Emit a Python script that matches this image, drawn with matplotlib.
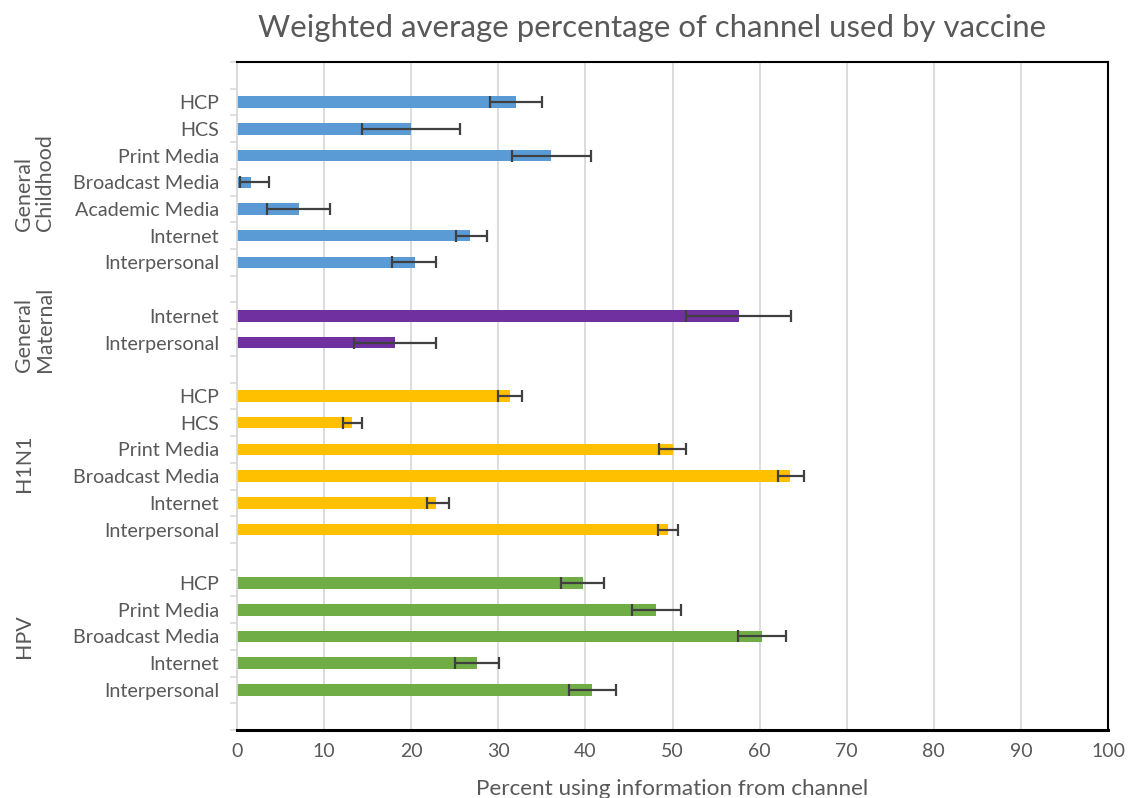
import numpy as np
import matplotlib
matplotlib.use("Agg")
import matplotlib.pyplot as plt

plt.rcParams['font.family'] = ['Lato', 'DejaVu Sans']

# Data (percent, lower error, upper error)
child_labels = ["HCP", "HCS", "Print Media", "Broadcast Media", "Academic Media", "Internet", "Interpersonal"]
child_vals = [32.0, 20.0, 36.1, 1.6, 7.1, 26.7, 20.4]
child_lo = [3.0, 5.6, 4.5, 1.2, 3.6, 1.6, 2.6]
child_hi = [3.0, 5.6, 4.5, 2.1, 3.6, 2.0, 2.5]

mat_labels = ["Internet", "Interpersonal"]
mat_vals = [57.6, 18.1]
mat_lo = [6.0, 4.7]
mat_hi = [6.0, 4.7]

h1n1_labels = ["HCP", "HCS", "Print Media", "Broadcast Media", "Internet", "Interpersonal"]
h1n1_vals = [31.4, 13.2, 50.0, 63.5, 22.9, 49.5]
h1n1_lo = [1.4, 1.0, 1.6, 1.4, 1.1, 1.2]
h1n1_hi = [1.3, 1.2, 1.5, 1.6, 1.4, 1.1]

hpv_labels = ["HCP", "Print Media", "Broadcast Media", "Internet", "Interpersonal"]
hpv_vals = [39.7, 48.1, 60.3, 27.6, 40.8]
hpv_lo = [2.5, 2.7, 2.8, 2.6, 2.7]
hpv_hi = [2.4, 2.9, 2.7, 2.5, 2.7]

groups = ["General\nChildhood", "General\nMaternal", "H1N1", "HPV"]
colors = ["#5B9BD5", "#7030A0", "#FFC000", "#70AD47"]

series = [
    (child_labels, child_vals, child_lo, child_hi),
    (mat_labels, mat_vals, mat_lo, mat_hi),
    (h1n1_labels, h1n1_vals, h1n1_lo, h1n1_hi),
    (hpv_labels, hpv_vals, hpv_lo, hpv_hi),
]

txt = "#595959"

fig = plt.figure(figsize=(11.28, 7.98), dpi=100)
ax = fig.add_axes([0.2101, 0.0852, 0.7722, 0.8371])

# build slot layout: one blank slot before each group and one at the end
slot = 1
ytick_pos, ytick_lab = [], []
group_centers = []
for (labs, vals, lo, hi), col in zip(series, colors):
    ys = np.arange(slot, slot + len(labs))
    ax.barh(ys, vals, height=0.43, color=col, zorder=2)
    ax.errorbar(vals, ys, xerr=[lo, hi], fmt="none", ecolor="#404040",
                elinewidth=1.6, capsize=4.5, capthick=1.6, zorder=3)
    ytick_pos += list(ys)
    ytick_lab += labs
    group_centers.append(ys.mean())
    slot += len(labs) + 1
n_slots = slot

ax.set_ylim(n_slots - 0.5, -0.5)
ax.set_xlim(0, 100)
ax.set_xticks(np.arange(0, 101, 10))
ax.set_yticks(ytick_pos)
ax.set_yticklabels(ytick_lab)
ax.set_yticks(np.arange(-0.5, n_slots, 1.0), minor=True)

ax.grid(axis="x", color="#d9d9d9", linewidth=1.3, zorder=0)
ax.tick_params(axis="y", which="major", length=0, pad=13, labelsize=14.2, labelcolor=txt)
ax.tick_params(axis="y", which="minor", length=5, color="#d9d9d9", width=1.2)
ax.tick_params(axis="x", length=0, pad=9, labelsize=14, labelcolor=txt)

for side in ["top", "right", "bottom"]:
    ax.spines[side].set_color("black")
    ax.spines[side].set_linewidth(1.5)
ax.spines["bottom"].set_linewidth(2.2)
ax.spines["left"].set_color("#d9d9d9")
ax.spines["left"].set_linewidth(1.3)

# group names, left edges lined up like Excel's multi-level category axis
for name, yc in zip(groups, group_centers):
    ax.text(-0.256, yc, name, transform=ax.get_yaxis_transform(), rotation=90,
            ha="left", va="center", fontsize=15.4, color=txt, linespacing=1.05)

ax.set_xlabel("Percent using information from channel", fontsize=16.2, color=txt, labelpad=14)
fig.suptitle("Weighted average percentage of channel used by vaccine", fontsize=22.4,
             color=txt, y=0.982, x=0.578)

fig.savefig("out.png", dpi=100)
